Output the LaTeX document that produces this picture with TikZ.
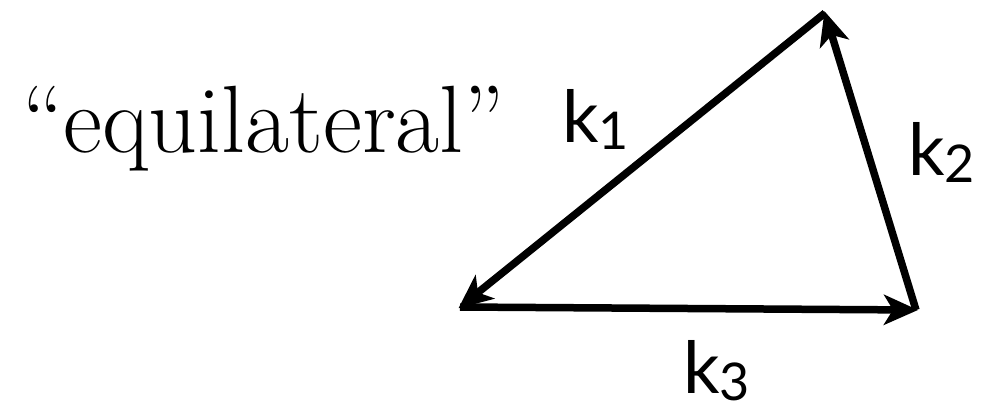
\documentclass[tikz,border=0pt]{standalone}
\usepackage{fontspec}
\newfontfamily\ksans{Lato}
\usetikzlibrary{arrows.meta}
\begin{document}
\begin{tikzpicture}[x=1pt,y=-1pt,
  side/.style={line width=7.5pt,-{Stealth[length=34pt,width=30pt,inset=9pt]}, shorten >=-2pt},
  klabel/.style={inner sep=0pt,anchor=base west}]
\useasboundingbox (0,0) rectangle (996,412);
\coordinate (T) at (825,13);
\coordinate (L) at (460,307);
\coordinate (R) at (916,310);
\draw[side] (T) -- (L);
\draw[side] (L) -- (R);
\draw[side] (R) -- (T);
\node[inner sep=0pt,anchor=base west] (eq) at (22,152)
  {\resizebox{483pt}{!}{\fontsize{70}{80}\selectfont ``equilateral''}};
\node[klabel] (k1) at (562,142) {\ksans\fontsize{72}{80}\selectfont k\raisebox{-7pt}{\fontsize{52}{60}\selectfont 1}};
\node[klabel] (k2) at (908,175) {\ksans\fontsize{72}{80}\selectfont k\raisebox{-7pt}{\fontsize{52}{60}\selectfont 2}};
\node[klabel] (k3) at (683,393) {\ksans\fontsize{72}{80}\selectfont k\raisebox{-7pt}{\fontsize{52}{60}\selectfont 3}};
\end{tikzpicture}
\end{document}
